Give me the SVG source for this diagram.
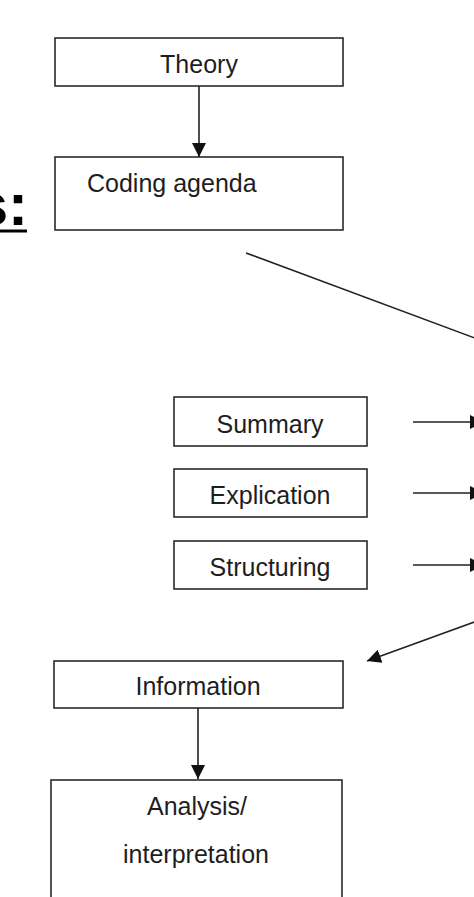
<svg xmlns="http://www.w3.org/2000/svg" width="474" height="897" viewBox="0 0 474 897">
<defs>
<marker id="ah" markerUnits="userSpaceOnUse" markerWidth="15" markerHeight="14" refX="14" refY="7" orient="auto">
<path d="M0,0 L14,7 L0,14 z" fill="#111"/>
</marker>
<style>
.box{fill:#fff;stroke:#2a2a2a;stroke-width:1.6}
.lbl{font-family:"Liberation Sans",Arial,sans-serif;font-size:25px;fill:#1e1e1e;text-anchor:middle}
.con{fill:none;stroke:#222;stroke-width:1.6}
</style>
</defs>
<rect width="474" height="897" fill="#fff"/>
<g id="title">
<text x="28" y="225" font-family="'Liberation Sans',Arial,sans-serif" font-size="60" font-weight="bold" text-anchor="end" fill="#000">s:</text>
<rect x="0" y="229.5" width="27" height="3" fill="#000"/>
</g>
<g id="theory"><rect class="box" x="55" y="38" width="288" height="48"/><text class="lbl" x="199" y="73">Theory</text></g>
<g id="coding"><rect class="box" x="55" y="157" width="288" height="73"/><text class="lbl" x="87" y="192" style="text-anchor:start">Coding agenda</text></g>
<g id="summary"><rect class="box" x="174" y="397" width="193" height="49"/><text class="lbl" x="270" y="433">Summary</text></g>
<g id="explication"><rect class="box" x="174" y="469" width="193" height="48"/><text class="lbl" x="270" y="504">Explication</text></g>
<g id="structuring"><rect class="box" x="174" y="541" width="193" height="48"/><text class="lbl" x="270" y="576">Structuring</text></g>
<g id="information"><rect class="box" x="54" y="661" width="289" height="47"/><text class="lbl" x="198" y="695">Information</text></g>
<g id="analysis"><rect class="box" x="51" y="780" width="291" height="200"/><text class="lbl" x="197" y="815">Analysis/</text><text class="lbl" x="196" y="863">interpretation</text></g>
<g id="connectors">
<line class="con" x1="199" y1="86" x2="199" y2="157" marker-end="url(#ah)"/>
<line class="con" x1="246" y1="253" x2="480" y2="340"/>
<line class="con" x1="413" y1="422" x2="484" y2="422" marker-end="url(#ah)"/>
<line class="con" x1="413" y1="493" x2="484" y2="493" marker-end="url(#ah)"/>
<line class="con" x1="413" y1="565" x2="484" y2="565" marker-end="url(#ah)"/>
<line class="con" x1="480" y1="620" x2="367" y2="661" marker-end="url(#ah)"/>
<line class="con" x1="198" y1="708" x2="198" y2="779" marker-end="url(#ah)"/>
</g>
</svg>
